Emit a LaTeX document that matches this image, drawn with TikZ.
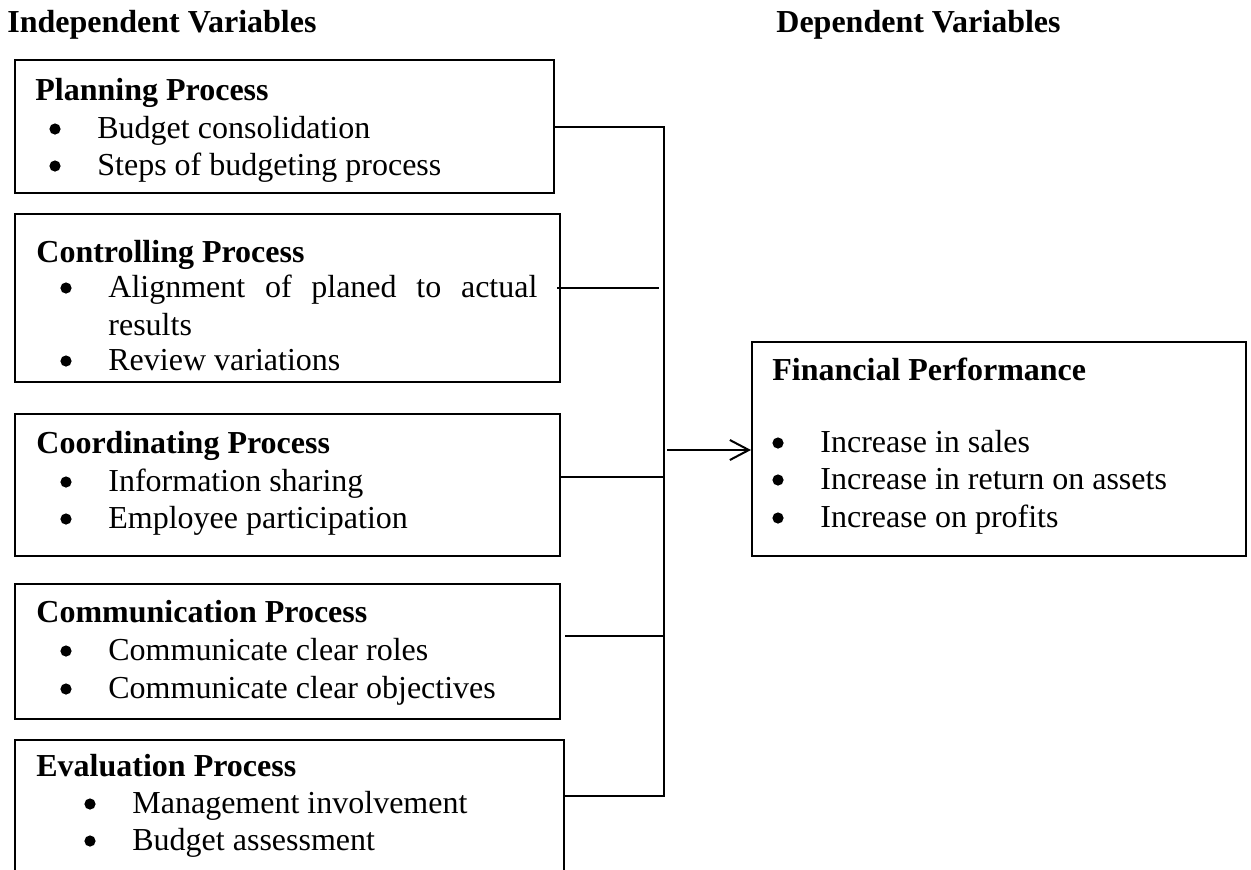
\documentclass[tikz,border=0pt]{standalone}
\usepackage{fontspec}
\setmainfont{Liberation Serif}
\usetikzlibrary{arrows.meta,calc}

\newcommand{\sz}{\fontsize{16pt}{18.5pt}\selectfont}
% bullet drawn 42px left of an item node, on its x-height middle
\newcommand{\bul}[1]{\fill (#1.base west) ++(-42,-9) circle (2.8pt);}

\tikzset{
  box/.style={draw, line width=1pt, inner sep=0pt, anchor=north west},
  head/.style={anchor=base west, inner sep=0pt, font=\sz\bfseries},
  item/.style={anchor=base west, inner sep=0pt, font=\sz},
  link/.style={line width=1pt},
}

\begin{document}
\begin{tikzpicture}[x=0.5pt,y=-0.5pt]
    \clip (0,0) rectangle (1251,869);

    \node[head] (indep) at (7,32) {Independent Variables};
    \node[head] (dep) at (776,32) {Dependent Variables};

    % planning
    \node[box, minimum width=269.5pt, minimum height=66.5pt] (plan) at (14,59) {};
    \node[head] (plan-head) at (35,100) {Planning Process};
    \begin{scope}
      \clip (14,59) rectangle (553,181);
      \foreach \y/\txt [count=\i] in {138/Budget consolidation,175/Steps of budgeting process} {
        \node[item] (plan-\i) at (97,\y) {\txt};
        \bul{plan-\i}
      }
    \end{scope}

    % controlling
    \node[box, minimum width=272.5pt, minimum height=84pt] (ctrl) at (14,213) {};
    \node[head] (ctrl-head) at (36,262) {Controlling Process};
    \node[item] (ctrl-1) at (108,297) {\makebox[214.5pt][s]{Alignment of planed to actual}};
    \node[item] (ctrl-1b) at (108,335) {results};
    \node[item] (ctrl-2) at (108,370) {Review variations};
    \bul{ctrl-1}
    \bul{ctrl-2}

    % coordinating
    \node[box, minimum width=272.5pt, minimum height=71pt] (coord) at (14,413) {};
    \node[head] (coord-head) at (36,453) {Coordinating Process};
    \foreach \y/\txt [count=\i] in {491/Information sharing,528/Employee participation} {
      \node[item] (coord-\i) at (108,\y) {\txt};
      \bul{coord-\i}
    }

    % communication
    \node[box, minimum width=272.5pt, minimum height=67.5pt] (comm) at (14,583) {};
    \node[head] (comm-head) at (36,622) {Communication Process};
    \foreach \y/\txt [count=\i] in {660/Communicate clear roles,698/Communicate clear objectives} {
      \node[item] (comm-\i) at (108,\y) {\txt};
      \bul{comm-\i}
    }

    % evaluation
    \node[box, minimum width=274.5pt, minimum height=75pt] (eval) at (14,739) {};
    \node[head] (eval-head) at (36,776) {Evaluation Process};
    \foreach \y/\txt [count=\i] in {813/Management involvement,850/Budget assessment} {
      \node[item] (eval-\i) at (132,\y) {\txt};
      \bul{eval-\i}
    }

    % dependent
    \node[box, minimum width=247pt, minimum height=107pt] (fin) at (751,341) {};
    \node[head] (fin-head) at (772,380) {Financial Performance};
    \foreach \y/\txt [count=\i] in {452/Increase in sales,489/Increase in return on assets,527/Increase on profits} {
      \node[item] (fin-\i) at (820,\y) {\txt};
      \bul{fin-\i}
    }

    % links
    \coordinate (bus-top) at (664,127);
    \coordinate (bus-bot) at (664,796);
    \coordinate (ctrl-end) at (659,288);
    \coordinate (coord-end) at (664,477);
    \coordinate (comm-end) at (664,636);
    \coordinate (bus-out) at (667,450);

    \draw[link] (plan.east |- bus-top) -- (bus-top) -- (bus-bot) -- (eval.east |- bus-bot);
    \draw[link] ($(ctrl.east |- ctrl-end)+(-4,0)$) -- (ctrl-end);
    \draw[link] (coord.east |- coord-end) -- (coord-end);
    \draw[link] ($(comm.east |- comm-end)+(4,0)$) -- (comm-end);
    \draw[link,-{Straight Barb[length=9.5pt,width=10pt]}] (bus-out) -- (fin.west |- bus-out);
\end{tikzpicture}
\end{document}
